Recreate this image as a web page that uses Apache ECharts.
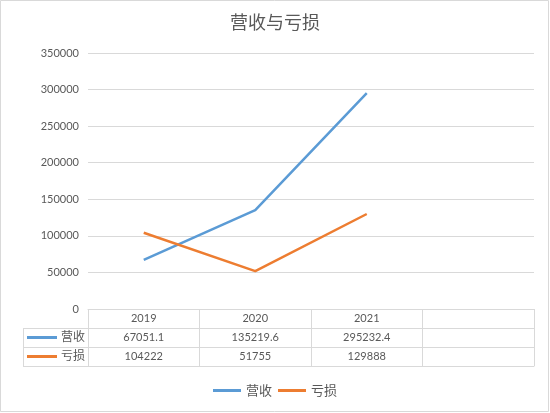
<!DOCTYPE html>
<html><head><meta charset="utf-8">
<script src="https://cdn.jsdelivr.net/npm/echarts@6/dist/echarts.min.js"></script>
<style>html,body{margin:0;padding:0;background:#fff}#c{width:550px;height:413px}</style>
</head><body><div id="c"></div>
<script>
var title = '营收与亏损';
var categories = ['2019', '2020', '2021', ''];
var seriesNames = ['营收', '亏损'];
var revenue = [67051.1, 135219.6, 295232.4, null];
var loss = [104222, 51755, 129888, null];
var colors = ['#5B9BD5', '#ED7D31'];
var yTicks = {min: 0, max: 350000, interval: 50000};

var FONT = "Lato, 'Noto Sans CJK SC', sans-serif";
var TXT = '#595959';
var GRID = '#D9D9D9';
function fmt(v){ return v == null ? '' : String(v); }

var chart = echarts.init(document.getElementById('c'));
var tableAxis = function(data, offset){
  return {
    type: 'category', data: data, position: 'bottom', offset: offset, gridIndex: 0,
    boundaryGap: true,
    axisLine: {show: true, lineStyle: {color: GRID, width: 1}},
    axisTick: {show: false},
    axisLabel: {show: true, interval: 0, margin: 4, color: TXT, fontSize: 11, fontFamily: FONT},
    splitLine: {show: false}
  };
};
var option = {
  backgroundColor: '#fff',
  title: {text: title, left: 'center', top: 9,
    textStyle: {fontSize: 18, fontWeight: 'normal', color: TXT, fontFamily: FONT}},
  grid: {left: 88, right: 16, top: 53, bottom: 104, containLabel: false},
  legend: {bottom: 11, left: 'center', itemWidth: 28, itemHeight: 3, itemGap: 6,
    icon: 'rect', data: seriesNames,
    textStyle: {color: TXT, fontSize: 13, fontFamily: FONT}},
  xAxis: [
    {type: 'category', data: categories, boundaryGap: true,
     axisLine: {show: true, lineStyle: {color: GRID}},
     axisTick: {show: true, interval: 0, length: 57, lineStyle: {color: GRID}},
     axisLabel: {interval: 0, margin: 4, color: TXT, fontSize: 11, fontFamily: FONT}},
    tableAxis(revenue.map(fmt), 19),
    tableAxis(loss.map(fmt), 38),
    tableAxis(categories.map(function(){return '';}), 57)
  ],
  yAxis: {type: 'value', min: yTicks.min, max: yTicks.max, interval: yTicks.interval,
    axisLine: {show: false}, axisTick: {show: false},
    axisLabel: {color: TXT, fontSize: 11, margin: 9, fontFamily: FONT,
      formatter: function(v){ return String(v); }},
    splitLine: {lineStyle: {color: GRID, width: 1}}},
  series: [
    {name: seriesNames[0], type: 'line', data: revenue, symbol: 'none',
     lineStyle: {width: 2.5, color: colors[0]}, itemStyle: {color: colors[0]}},
    {name: seriesNames[1], type: 'line', data: loss, symbol: 'none',
     lineStyle: {width: 2.5, color: colors[1]}, itemStyle: {color: colors[1]}}
  ]
};
chart.setOption(option);

// Left legend column of the data table
var x0 = chart.convertToPixel({xAxisIndex: 0}, categories[0]);
var bandW = chart.convertToPixel({xAxisIndex: 0}, categories[1]) - x0;
var left = x0 - bandW / 2;
var yTop = chart.convertToPixel({yAxisIndex: 0}, 0);
var rowH = 19;
var colL = 23;
var g = [];
g.push({type: 'rect', shape: {x: 0.5, y: 0.5, width: 548, height: 411},
  style: {fill: null, stroke: GRID, lineWidth: 1}, silent: true});
g.push({type: 'line', shape: {x1: colL + 0.5, y1: yTop + rowH, x2: colL + 0.5, y2: yTop + rowH * 3},
  style: {stroke: GRID, lineWidth: 1}});
for (var r = 1; r <= 3; r++) {
  g.push({type: 'line', shape: {x1: colL, y1: Math.round(yTop + rowH * r) + 0.5, x2: left, y2: Math.round(yTop + rowH * r) + 0.5},
    style: {stroke: GRID, lineWidth: 1}});
}
seriesNames.forEach(function(n, i){
  var cy = yTop + rowH * (i + 1) + rowH / 2;
  g.push({type: 'line', shape: {x1: 27, y1: cy, x2: 57, y2: cy},
    style: {stroke: colors[i], lineWidth: 3}});
  g.push({type: 'text', x: left - 3, y: cy,
    style: {text: n, align: 'right', verticalAlign: 'middle', fill: TXT, fontSize: 12, fontFamily: FONT}});
});
chart.setOption({graphic: g});
</script></body></html>
